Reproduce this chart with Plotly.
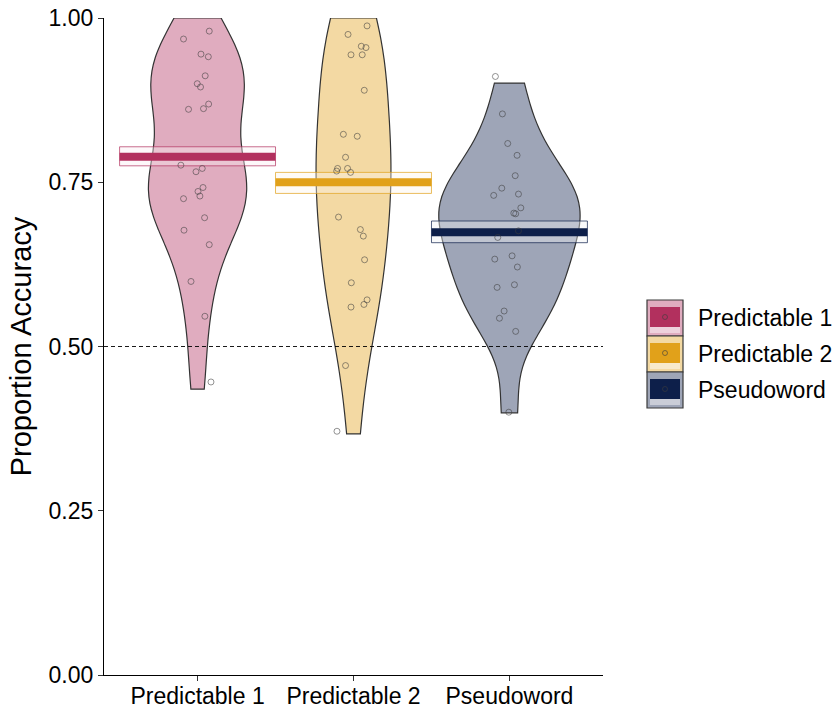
import plotly.graph_objects as go

# ---------------- data ----------------
categories = ["Predictable 1", "Predictable 2", "Pseudoword"]

p1_vals = [0.968, 0.980, 0.945, 0.941, 0.912, 0.900, 0.895, 0.861, 0.862, 0.869,
           0.776, 0.766, 0.771, 0.742, 0.736, 0.729, 0.725, 0.696, 0.677, 0.655,
           0.599, 0.546, 0.446]
p1_jit = [-0.090, 0.075, 0.022, 0.069, 0.049, -0.002, 0.019, -0.058, 0.038, 0.071,
          -0.107, -0.010, 0.030, 0.035, 0.003, 0.015, -0.090, 0.045, -0.087, 0.075,
          -0.042, 0.047, 0.086]

p2_vals = [0.988, 0.975, 0.957, 0.955, 0.944, 0.944, 0.890, 0.823, 0.820, 0.788,
           0.771, 0.767, 0.771, 0.765, 0.697, 0.678, 0.668, 0.632, 0.597, 0.571,
           0.564, 0.560, 0.471, 0.371]
p2_jit = [0.087, -0.035, 0.050, 0.080, -0.016, 0.056, 0.069, -0.065, 0.024, -0.051,
          -0.102, -0.108, -0.038, -0.019, -0.096, 0.044, 0.063, 0.071, -0.014, 0.087,
          0.067, -0.016, -0.051, -0.106]

pw_vals = [0.911, 0.854, 0.809, 0.791, 0.760, 0.741, 0.730, 0.732, 0.711, 0.703,
           0.702, 0.676, 0.666, 0.633, 0.638, 0.621, 0.590, 0.594, 0.554, 0.543,
           0.523, 0.400]
pw_jit = [-0.090, -0.045, -0.011, 0.049, 0.037, -0.049, -0.101, 0.058, 0.073, 0.028,
          0.040, 0.058, -0.075, -0.094, 0.017, 0.051, -0.079, 0.032, -0.034, -0.064,
          0.040, -0.004]

means = [0.789, 0.750, 0.674]
ci_low = [0.775, 0.733, 0.658]
ci_high = [0.804, 0.765, 0.691]
bean_low = [0.435, 0.367, 0.399]
bean_high = [1.0, 1.0, 0.901]

y_ticks = [0.0, 0.25, 0.5, 0.75, 1.0]
chance = 0.5

# ---------------- styles ----------------
FONT = "Liberation Sans, Arial, sans-serif"
line_rgb = [(178, 48, 94), (225, 161, 26), (13, 31, 74)]
band_rgb = [(250, 238, 242), (252, 246, 236), (240, 242, 246)]
bean_width = [0.63, 0.48, 0.905]
bandwidth = [0.062, 0.095, 0.052]


def rgba(c, a):
    return f"rgba({c[0]},{c[1]},{c[2]},{a})"


def light(c, a):
    # colour c at opacity a over white
    return "rgb(%d,%d,%d)" % tuple(round(a * v + (1 - a) * 255) for v in c)


groups = [(p1_vals, p1_jit), (p2_vals, p2_jit), (pw_vals, pw_jit)]
positions = [1, 2, 3]

fig = go.Figure()

# violins (beans)
for i, (vals, _) in enumerate(groups):
    fig.add_trace(go.Violin(
        x=[positions[i]] * len(vals), y=vals,
        width=bean_width[i], bandwidth=bandwidth[i],
        spanmode="manual", span=[bean_low[i], bean_high[i]],
        points=False, box_visible=False, meanline_visible=False,
        fillcolor=light(line_rgb[i], 0.4),
        line=dict(color="#333333", width=1.2),
        hoverinfo="skip", showlegend=False, scalemode="width",
    ))

# inference bands
for i in range(3):
    c = positions[i]
    fig.add_trace(go.Scatter(
        x=[c - 0.5, c + 0.5, c + 0.5, c - 0.5, c - 0.5],
        y=[ci_low[i], ci_low[i], ci_high[i], ci_high[i], ci_low[i]],
        mode="lines", fill="toself",
        fillcolor=rgba(band_rgb[i], 0.4),
        line=dict(color=rgba(line_rgb[i], 0.7), width=1),
        hoverinfo="skip", showlegend=False,
    ))

# mean lines
for i in range(3):
    c = positions[i]
    fig.add_trace(go.Scatter(
        x=[c - 0.5, c + 0.5], y=[means[i], means[i]],
        mode="lines", line=dict(color=rgba(line_rgb[i], 1), width=8),
        hoverinfo="skip", showlegend=False,
    ))

# raw points
for i, (vals, jit) in enumerate(groups):
    fig.add_trace(go.Scatter(
        x=[positions[i] + j for j in jit], y=vals, mode="markers",
        marker=dict(symbol="circle-open", size=6,
                    color="rgba(60,60,60,0.55)", line=dict(width=1)),
        hoverinfo="skip", showlegend=False,
    ))

# chance line
fig.add_shape(type="line", xref="paper", x0=0, x1=1, yref="y", y0=chance, y1=chance,
              line=dict(color="black", width=0.9, dash="4px,3px"), layer="above")

# ---------------- manual legend ----------------
ML, MR, MT, MB = 104, 234, 18, 36
W, H = 837, 711
PL, PR, PT, PB = ML, W - MR, MT, H - MB


def pxx(x):
    return (x - PL) / (PR - PL)


def pxy(y):
    return (PB - y) / (PB - PT)


key_tops = [300, 336, 372]
for i, top in enumerate(key_tops):
    fig.add_shape(type="rect", xref="paper", yref="paper",
                  x0=pxx(647), x1=pxx(683), y0=pxy(top), y1=pxy(top + 36),
                  fillcolor=light(line_rgb[i], 0.4),
                  line=dict(color="#3a3a3a", width=1.2), layer="above")
    fig.add_shape(type="rect", xref="paper", yref="paper",
                  x0=pxx(650), x1=pxx(680), y0=pxy(top + 7), y1=pxy(top + 27),
                  fillcolor=rgba(line_rgb[i], 1), line=dict(width=0), layer="above")
    fig.add_shape(type="rect", xref="paper", yref="paper",
                  x0=pxx(650), x1=pxx(680), y0=pxy(top + 27), y1=pxy(top + 33),
                  fillcolor="rgba(255,255,255,0.45)", line=dict(width=0), layer="above")
    fig.add_shape(type="circle", xref="paper", yref="paper",
                  x0=pxx(662.5), x1=pxx(667.5), y0=pxy(top + 14.5), y1=pxy(top + 19.5),
                  line=dict(color="rgba(60,60,60,0.6)", width=1), layer="above")
    fig.add_annotation(xref="paper", yref="paper", x=pxx(696), y=pxy(top + 18),
                       text=categories[i], showarrow=False, xanchor="left",
                       yanchor="middle", font=dict(family=FONT, size=23, color="black"))

fig.update_layout(
    width=W, height=H,
    margin=dict(l=ML, r=MR, t=MT, b=MB, autoexpand=False),
    paper_bgcolor="white", plot_bgcolor="white",
    violinmode="overlay", showlegend=False,
    font=dict(family=FONT, color="black"),
)
fig.update_xaxes(
    range=[0.4, 3.6], tickmode="array", tickvals=positions, ticktext=categories,
    showline=True, linecolor="black", linewidth=1.3, mirror=False,
    ticks="outside", ticklen=5, tickwidth=1.2, tickcolor="#333333",
    showgrid=False, zeroline=False, ticklabelstandoff=-5,
    tickfont=dict(family=FONT, size=23, color="black"),
)
fig.update_yaxes(
    range=[0, 1], tickmode="array", tickvals=y_ticks, tickformat=".2f",
    showline=True, linecolor="black", linewidth=1.3,
    ticks="outside", ticklen=5, tickwidth=1.2, tickcolor="#333333",
    showgrid=False, zeroline=False,
    tickfont=dict(family=FONT, size=23, color="black"),
    title=dict(text="Proportion Accuracy", font=dict(family=FONT, size=29, color="black"),
               standoff=8),
)

fig.write_html("out.html")
